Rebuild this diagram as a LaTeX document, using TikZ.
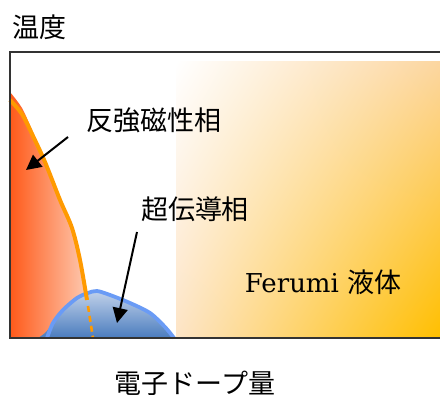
\documentclass[tikz,border=0pt]{standalone}
\usepackage{fontspec}
\newfontfamily\cjk{Noto Sans CJK JP}
\newfontfamily\latinserif{DejaVu Serif}
\usetikzlibrary{arrows.meta,shadings}
\definecolor{framecol}{HTML}{333333}
\definecolor{afmleft}{HTML}{FF5A1A}
\definecolor{afmright}{HTML}{FDD2BC}
\definecolor{afmline}{HTML}{FF9A00}
\definecolor{scline}{HTML}{6A9BF5}
\definecolor{sctop}{HTML}{C2D2EA}
\definecolor{scbot}{HTML}{4A7CBE}
\definecolor{fermiUR}{HTML}{FCD6A0}
\definecolor{fermiLL}{HTML}{FDE4C6}
\definecolor{fermiLR}{HTML}{FFBF00}
\begin{document}
\begin{tikzpicture}[x=1pt,y=-1pt,
  lbl/.style={font=\cjk\fontsize{27}{27}\selectfont, inner sep=0pt},
  pointer/.style={line width=2pt, -{Triangle[length=15pt,width=15pt]}},
  framestyle/.style={draw=framecol, line width=1.6pt}]
\useasboundingbox (0,0) rectangle (440,395);
% Fermi liquid region
\shade[upper left=white, upper right=fermiUR, lower left=fermiLL, lower right=fermiLR]
  (176,62) rectangle (440,338);
% antiferromagnetic region
\shade[left color=afmleft, right color=afmright]
  (10,92) -- plot[smooth] coordinates {(10,92) (22,108) (33,132) (45,160) (60,200) (72,228) (80,260) (87,298) (93,338)} -- (10,338) -- cycle;
% superconducting dome
\shade[top color=sctop, bottom color=scbot]
  plot[smooth] coordinates {(38,338) (46,332) (55,320) (63,310) (77,298) (88,293) (97,291) (110,295) (130,303) (150,313) (165,327) (174,338)} -- cycle;
\draw[scline, line width=3.8pt]
  plot[smooth] coordinates {(47,338) (53,323) (63,310) (77,298) (88,293) (97,291) (110,295) (130,303) (150,313) (165,327) (174,338)};
% AFM boundary
\draw[afmline, line width=4pt]
  plot[smooth] coordinates {(10,100) (22,114) (33,136) (45,162) (60,200) (72,228) (80,260) (87,300)};
\draw[afmline, line width=2.6pt, dash pattern=on 6pt off 4pt]
  (88,306) -- (93,338);
% frame
\draw[framestyle] (440,52) -- (10,52) -- (10,338) -- (440,338);
% labels
\node[lbl] (temp) at (39.5,27) {温度};
\node[lbl] (afm) at (154,120) {反強磁性相};
\node[lbl] (sc) at (195,209) {超伝導相};
\node[inner sep=0pt, font=\latinserif\fontsize{26}{26}\selectfont] (fermi) at (323,282) {Ferumi {\cjk\fontsize{27}{27}\selectfont 液体}};
\node[lbl] (dope) at (195,383) {電子ドープ量};
% pointers
\coordinate (afmtail) at (68,137);
\coordinate (afmtip) at (26,170);
\coordinate (sctail) at (137,232);
\coordinate (sctip) at (117,323);
\draw[pointer] (afmtail) -- (afmtip);
\draw[pointer] (sctail) -- (sctip);
\end{tikzpicture}
\end{document}
